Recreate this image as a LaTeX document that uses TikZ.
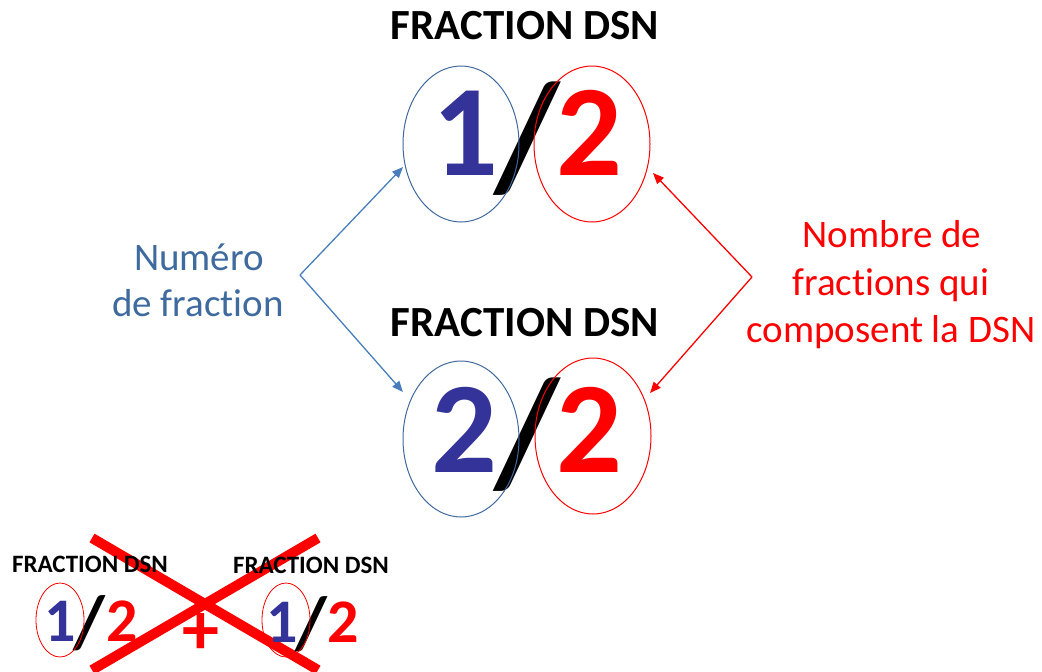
\documentclass[tikz,border=0pt]{standalone}
\usepackage{fontspec}
\setmainfont{Carlito}[Ligatures=NoCommon]
\usetikzlibrary{arrows.meta,shapes.geometric}
\definecolor{digblue}{RGB}{51,51,153}
\definecolor{ellblue}{RGB}{65,105,156}
\definecolor{arrblue}{RGB}{74,126,187}
\definecolor{txtblue}{RGB}{62,106,158}
\definecolor{myred}{RGB}{255,0,0}
\tikzset{
  title/.style={anchor=base,inner sep=0pt,font=\fontsize{43}{50}\selectfont\bfseries},
  smalltitle/.style={anchor=base,inner sep=0pt,font=\fontsize{25}{30}\selectfont\bfseries},
  bigdig/.style={anchor=base,inner sep=0pt,font=\fontsize{130}{150}\selectfont\bfseries},
  bigslash/.style={anchor=base,inner sep=0pt,font=\fontsize{152}{170}\selectfont\bfseries},
  smalldig/.style={anchor=base,inner sep=0pt,font=\fontsize{62}{70}\selectfont\bfseries},
  smallslash/.style={anchor=base,inner sep=0pt,font=\fontsize{74}{80}\selectfont\bfseries},
  plussign/.style={anchor=base,inner sep=0pt,font=\fontsize{74}{80}\selectfont\bfseries},
  label/.style={anchor=base,inner sep=0pt,font=\fontsize{39}{46}\selectfont},
  oval/.style={ellipse,inner sep=0pt,minimum width=116pt,minimum height=156pt,line width=1pt},
  smalloval/.style={ellipse,inner sep=0pt,minimum width=48pt,minimum height=74pt,line width=0.8pt,draw=myred},
  barrow/.style={draw=arrblue,line width=1.3pt,-{Triangle[length=11pt,width=9pt]}},
  rarrow/.style={draw=myred,line width=1.3pt,-{Triangle[length=11pt,width=9pt]}},
  cross/.style={draw=myred,line width=10pt}
}
\begin{document}
\begin{tikzpicture}[x=1pt,y=-1pt]
\useasboundingbox (0,0) rectangle (1042,672);
% red cross (underneath the small texts)
\coordinate (xa) at (92,538);
\coordinate (xb) at (318,670);
\coordinate (xc) at (318,538);
\coordinate (xd) at (92,670);
\draw[cross] (xa) -- (xb);
\draw[cross] (xc) -- (xd);
% top fraction
\node[title] (t1) at (525,39) {FRACTION DSN};
\node[bigdig,text=digblue] (n1) at (465,175) {1};
\node[bigslash,text=black] (s1) at (527,188) {/};
\node[bigdig,text=myred] (d1) at (589,175) {2};
\node[oval,draw=ellblue] (e1) at (461,144) {};
\node[oval,draw=myred] (r1) at (592,144) {};
% bottom fraction
\node[title] (t2) at (525,336) {FRACTION DSN};
\node[bigdig,text=digblue] (n2) at (464,472) {2};
\node[bigslash,text=black] (s2) at (527,484) {/};
\node[bigdig,text=myred] (d2) at (589,472) {2};
\node[oval,draw=ellblue] (e2) at (461,439) {};
\node[oval,draw=myred] (r2) at (593,436) {};
% blue label and arrows
\node[label,text=txtblue] (lb1) at (199,270) {Numéro};
\node[label,text=txtblue] (lb2) at (198,316) {de fraction};
\coordinate (vb) at (300,275);
\coordinate (tb1) at (403,167);
\coordinate (tb2) at (403,392);
\draw[barrow] (vb) -- (tb1);
\draw[barrow] (vb) -- (tb2);
% red label and arrows
\node[label,text=myred] (lr1) at (892,247) {Nombre de};
\node[label,text=myred] (lr2) at (891,295) {fractions qui};
\node[label,text=myred] (lr3) at (891,342) {composent la DSN};
\coordinate (vr) at (752,277);
\coordinate (tr1) at (653,173);
\coordinate (tr2) at (650,393);
\draw[rarrow] (vr) -- (tr1);
\draw[rarrow] (vr) -- (tr2);
% small crossed-out example
\node[smalltitle] (st1) at (90,572) {FRACTION DSN};
\node[smalltitle] (st2) at (311,573) {FRACTION DSN};
\node[smalldig,text=digblue] (sn1) at (60,641) {1};
\node[smallslash,text=black] (ss1) at (89,647) {/};
\node[smalldig,text=myred] (sd1) at (122,641) {2};
\node[smalloval] (so1) at (60,620) {};
\node[plussign,text=myred] (plus) at (201,654) {+};
\node[smalldig,text=digblue] (sn2) at (282,642) {1};
\node[smallslash,text=black] (ss2) at (311,648) {/};
\node[smalldig,text=myred] (sd2) at (343,642) {2};
\node[smalloval] (so2) at (286,620) {};
\end{tikzpicture}
\end{document}
